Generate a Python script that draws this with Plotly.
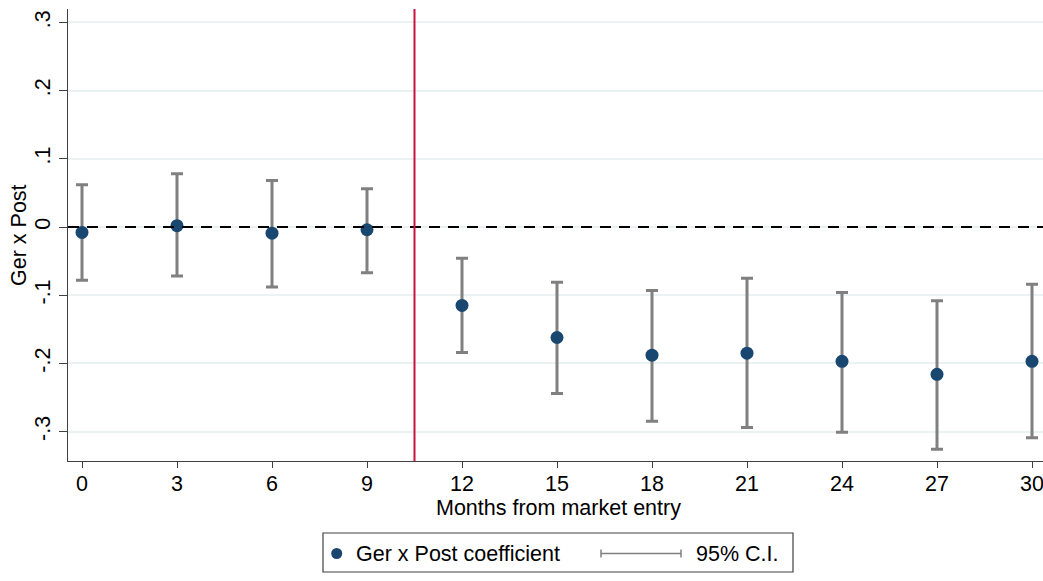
import plotly.graph_objects as go

# Event-study estimates: Ger x Post coefficient by months from market entry
months = [0, 3, 6, 9, 12, 15, 18, 21, 24, 27, 30]
coef = [-0.008, 0.002, -0.009, -0.004, -0.115, -0.162, -0.188, -0.185, -0.197, -0.216, -0.197]
ci_low = [-0.078, -0.072, -0.088, -0.067, -0.184, -0.244, -0.285, -0.294, -0.301, -0.326, -0.309]
ci_high = [0.062, 0.078, 0.068, 0.056, -0.046, -0.081, -0.093, -0.075, -0.096, -0.108, -0.084]

y_ticks = [-0.3, -0.2, -0.1, 0, 0.1, 0.2, 0.3]
y_tick_text = ["-.3", "-.2", "-.1", "0", ".1", ".2", ".3"]
entry_cutoff = 10.5

NAVY = "#1a476f"
GRAY = "#808080"
FONT = "Liberation Sans, Arial, sans-serif"
FS = 21.5

W, H = 1043, 581
ML, MR, MT, MB = 68, 0, 9, 120
PW, PH = W - ML - MR, H - MT - MB


def px_x(px):
    return (px - ML) / PW


def px_y(py):
    return (H - MB - py) / PH


err_plus = [h - c for h, c in zip(ci_high, coef)]
err_minus = [c - l for c, l in zip(coef, ci_low)]

fig = go.Figure()
fig.add_trace(go.Scatter(
    x=months, y=coef, mode="markers",
    marker=dict(color=NAVY, size=13, line=dict(width=0)),
    error_y=dict(type="data", symmetric=False, array=err_plus, arrayminus=err_minus,
                 color=GRAY, thickness=3, width=6),
    showlegend=False, cliponaxis=False,
))

shapes = [
    # zero reference line
    dict(type="line", xref="paper", yref="y", x0=0, x1=1, y0=0, y1=0,
         line=dict(color="black", width=2, dash="11px,8px"), layer="above"),
    # market entry marker
    dict(type="line", xref="x", yref="paper", x0=entry_cutoff, x1=entry_cutoff, y0=0, y1=1,
         line=dict(color="#c8143c", width=2), layer="above"),
]

# legend box
lx0, lx1, ly0, ly1 = 323, 793, 533, 572
lyc = 553.5
shapes.append(dict(type="rect", xref="paper", yref="paper",
                   x0=px_x(lx0), x1=px_x(lx1), y0=px_y(ly1), y1=px_y(ly0),
                   line=dict(color="#404040", width=1.2), fillcolor="rgba(0,0,0,0)"))
# legend marker
shapes.append(dict(type="circle", xref="paper", yref="paper",
                   xsizemode="pixel", ysizemode="pixel",
                   xanchor=px_x(336.7), yanchor=px_y(lyc),
                   x0=-5.5, x1=5.5, y0=-5.5, y1=5.5,
                   fillcolor=NAVY, line=dict(width=0)))
# legend C.I. symbol
shapes.append(dict(type="line", xref="paper", yref="paper",
                   x0=px_x(601), x1=px_x(681), y0=px_y(lyc), y1=px_y(lyc),
                   line=dict(color=GRAY, width=1.5)))
for cx in (601, 681):
    shapes.append(dict(type="line", xref="paper", yref="paper",
                       x0=px_x(cx), x1=px_x(cx), y0=px_y(lyc - 4), y1=px_y(lyc + 4),
                       line=dict(color=GRAY, width=1.5)))

annotations = [
    dict(text="Months from market entry", xref="paper", yref="paper",
         x=px_x(558), y=px_y(508), xanchor="center", yanchor="middle",
         showarrow=False, font=dict(family=FONT, size=FS, color="black")),
    dict(text="Ger x Post", xref="paper", yref="paper",
         x=px_x(19), y=px_y(235), xanchor="center", yanchor="middle", textangle=-90,
         showarrow=False, font=dict(family=FONT, size=FS, color="black")),
    dict(text="Ger x Post coefficient", xref="paper", yref="paper",
         x=px_x(354), y=px_y(lyc), xanchor="left", yanchor="middle",
         showarrow=False, font=dict(family=FONT, size=FS, color="black")),
    dict(text="95% C.I.", xref="paper", yref="paper",
         x=px_x(694), y=px_y(lyc), xanchor="left", yanchor="middle",
         showarrow=False, font=dict(family=FONT, size=FS, color="black")),
]

x_left = (ML - 82) / (95 / 3)
x_right = x_left + PW / (95 / 3)
y_scale = 682.0
y_zero_px = 227.0
y_top = (y_zero_px - MT) / y_scale
y_bot = -(H - MB - y_zero_px) / y_scale

fig.update_layout(
    width=W, height=H,
    margin=dict(l=ML, r=MR, t=MT, b=MB, pad=0),
    paper_bgcolor="white", plot_bgcolor="white",
    font=dict(family=FONT, size=FS, color="black"),
    showlegend=False,
    shapes=shapes, annotations=annotations,
    xaxis=dict(range=[x_left, x_right], tickvals=months, ticks="outside", ticklen=6,
               tickwidth=1, tickcolor="#404040", showline=True, linecolor="#404040",
               linewidth=1.3, showgrid=False, zeroline=False, automargin=False,
               ticklabeloverflow="allow", ticklabelstandoff=-3,
               tickfont=dict(family=FONT, size=FS, color="black")),
    yaxis=dict(range=[y_bot, y_top], tickvals=y_ticks, ticktext=y_tick_text,
               tickangle=-90, ticks="outside", ticklen=8, tickwidth=1,
               tickcolor="#404040", showline=True, linecolor="#404040", linewidth=1.3,
               showgrid=True, gridcolor="#eaf2f3", gridwidth=1.5, zeroline=False,
               automargin=False, tickfont=dict(family=FONT, size=FS, color="black")),
)

fig.write_html("out.html")
